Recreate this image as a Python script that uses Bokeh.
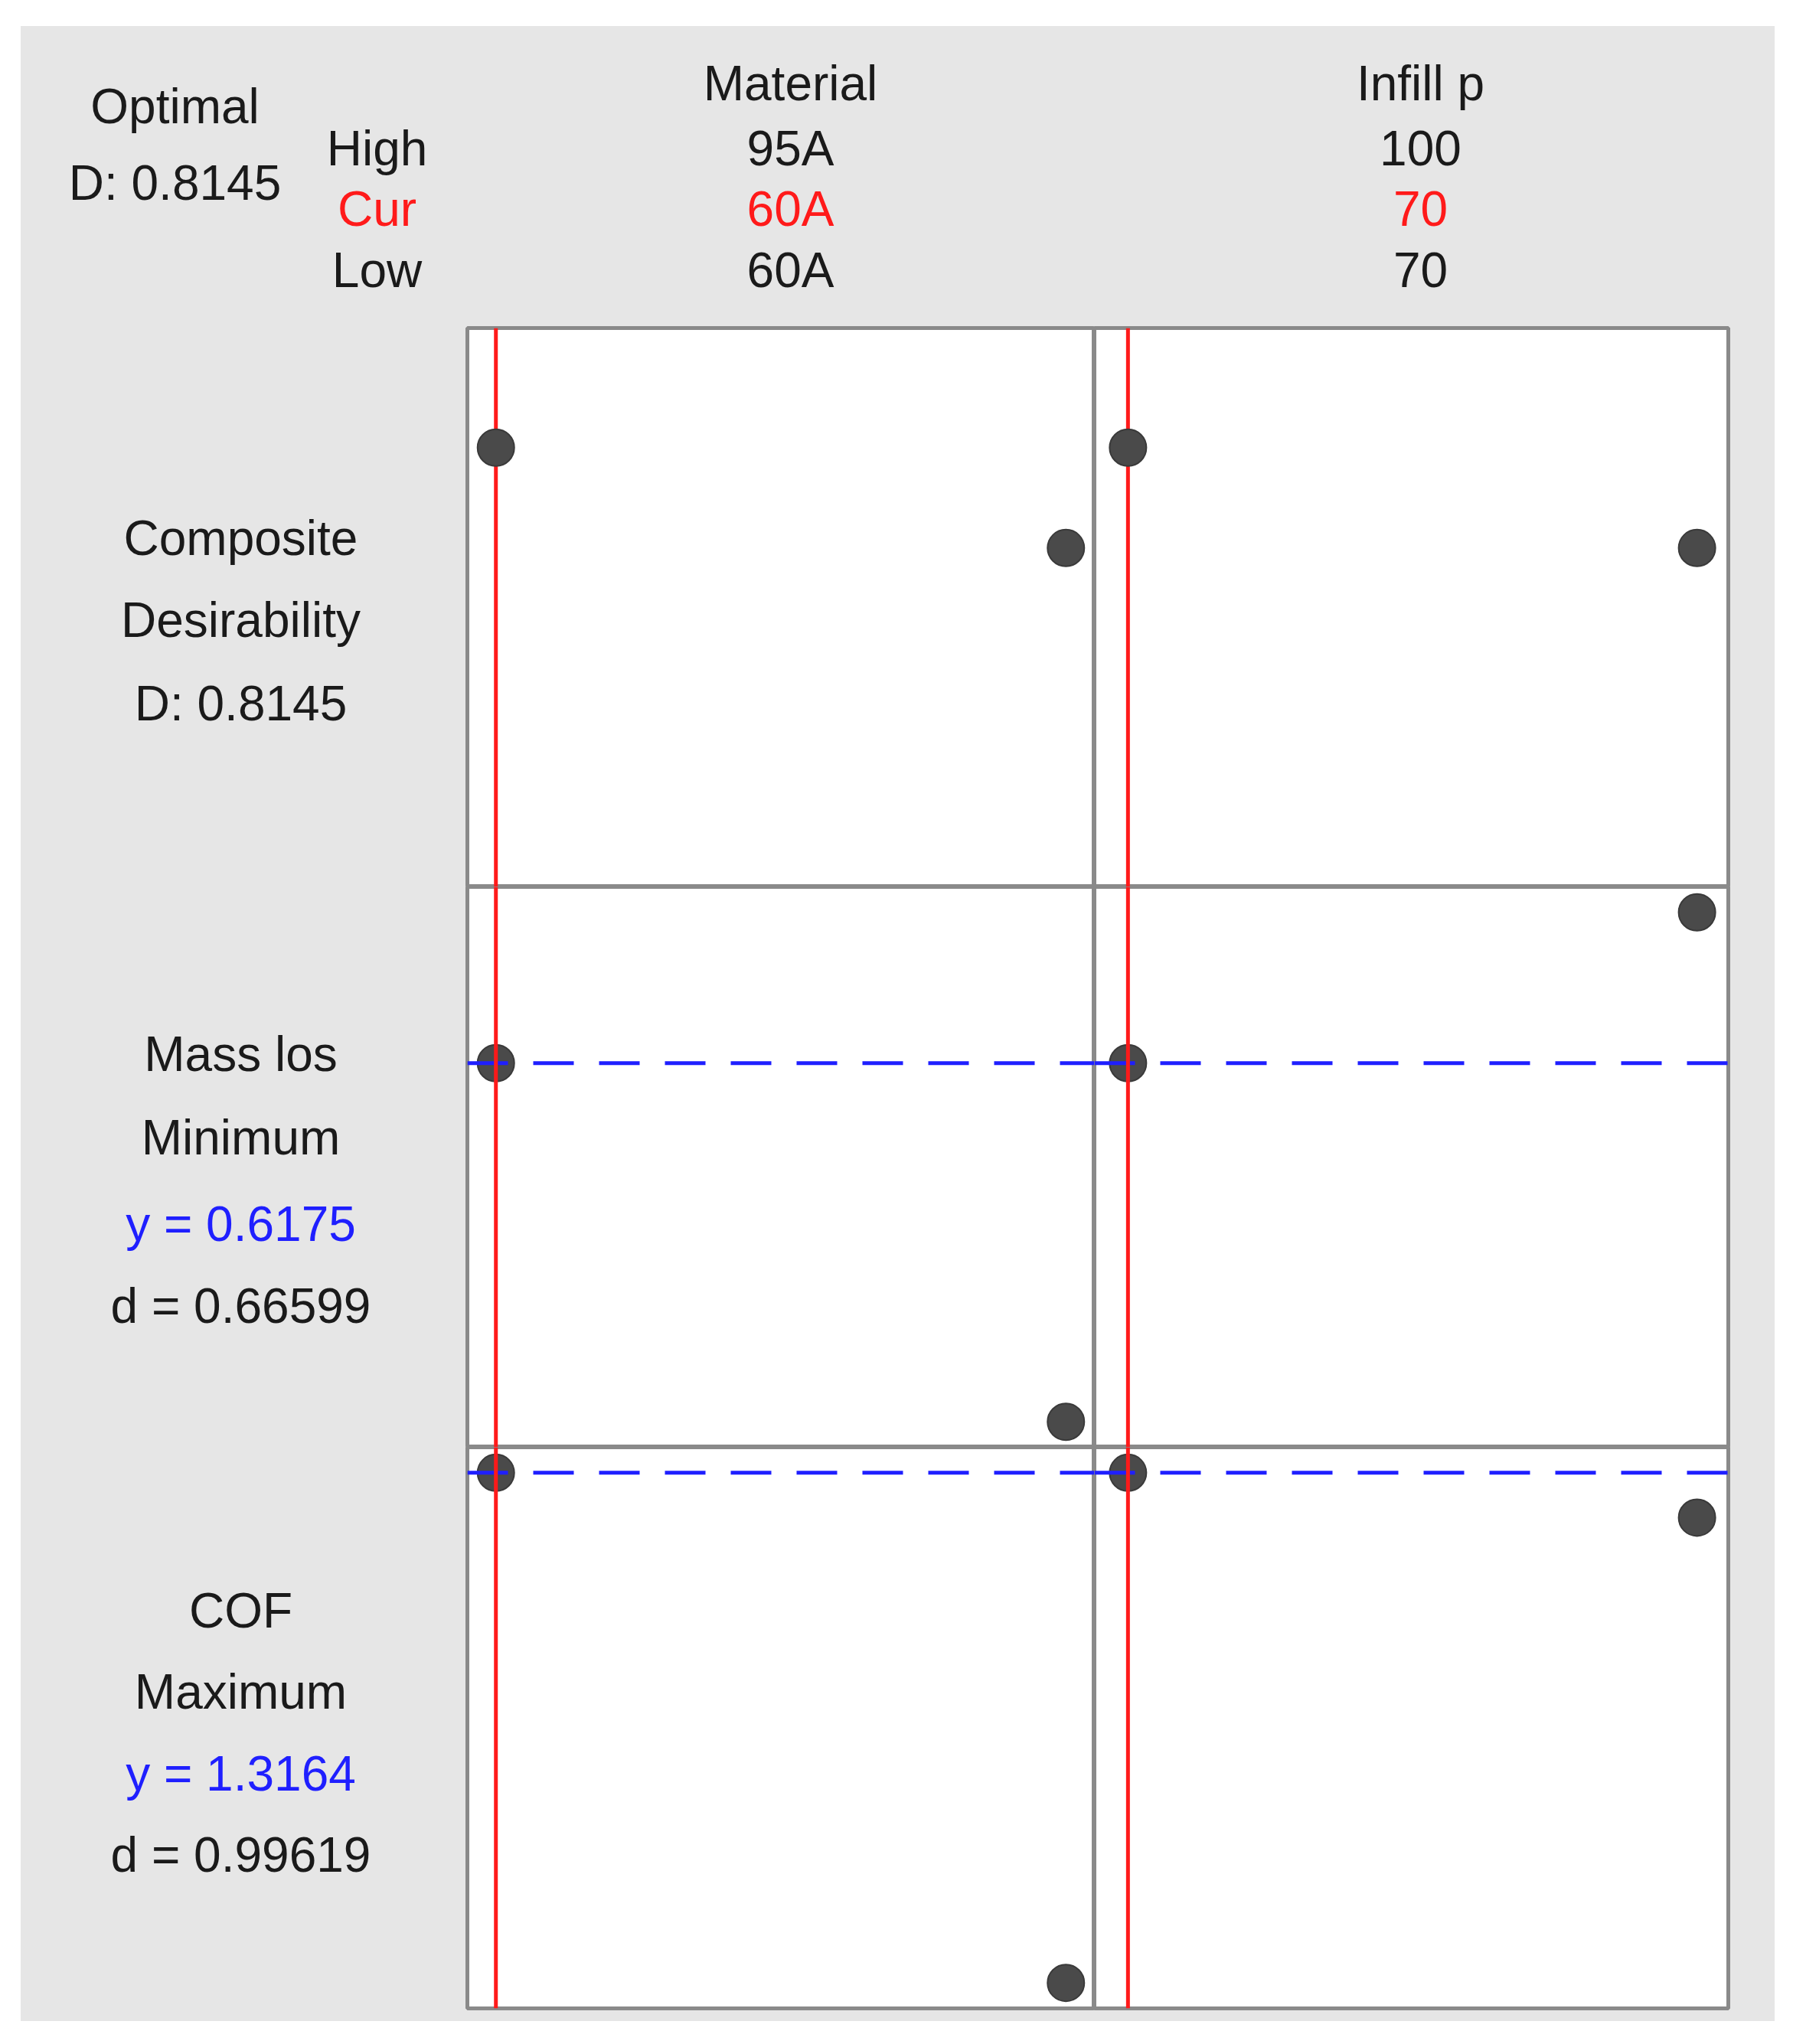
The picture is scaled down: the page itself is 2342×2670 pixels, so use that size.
from bokeh.plotting import figure
from bokeh.models import Range1d, Label, Span, ColumnDataSource
from bokeh.layouts import column, row
from bokeh.embed import file_html
from bokeh.resources import INLINE

# ---------------- data ----------------
factor_names = ["Material", "Infill p"]
factor_high = ["95A", "100"]
factor_cur = ["60A", "70"]
factor_low = ["60A", "70"]
material_levels = ["60A", "95A"]
infill_levels = [70, 100]
infill_cur = 70

optimal_D = 0.8145
response_names = ["Mass los", "COF"]
response_goals = ["Minimum", "Maximum"]
response_y = [0.6175, 1.3164]
response_d = [0.66599, 0.99619]

# predicted values at (low, high) level of each factor, other factor held at current
composite_material = [0.8145, 0.617]
composite_infill = [0.8145, 0.617]
massloss_material = [0.6175, 0.300]
massloss_infill = [0.6175, 0.751]
cof_material = [1.3164, 0.550]
cof_infill = [1.3164, 1.249]

# ---------------- style ----------------
GRAY = "#e6e6e6"
TXT = "#1a1a1a"
RED = "#ff1a1a"
BLUE = "#1f1fff"
PT = "#4a4a4a"
FRAME = "#8a8a8a"
FONT = "Liberation Sans"
FS = "64px"
DY = 24  # text baseline correction


def blank(w, h):
    p = figure(width=w, height=h, x_range=Range1d(0, w), y_range=Range1d(0, h),
               toolbar_location=None, output_backend="svg",
               x_axis_type=None, y_axis_type=None,
               min_border_left=0, min_border_right=0, min_border_top=0, min_border_bottom=0)
    p.outline_line_color = None
    p.background_fill_color = GRAY
    p.border_fill_color = GRAY
    return p


def lab(p, x, y, text, color=TXT):
    p.add_layout(Label(x=x, y=y + DY, text=text, text_font=FONT, text_font_size=FS,
                       text_color=color, text_align="center", text_baseline="alphabetic"))


def padded(vals, pad_lo=0.05, pad_hi=0.05):
    lo, hi = min(vals), max(vals)
    r = hi - lo
    return Range1d(lo - pad_lo * r, hi + pad_hi * r)


# ---------------- header ----------------
header = blank(2291, 392)
lab(header, 201, 264, "Optimal")
lab(header, 201, 164, f"D: {optimal_D:.4f}")
lab(header, 465, 209, "High")
lab(header, 465, 130, "Cur", RED)
lab(header, 465, 50, "Low")
header_x = [1005, 1828]
for i, name in enumerate(factor_names):
    lab(header, header_x[i], 294, name)
    lab(header, header_x[i], 209, factor_high[i])
    lab(header, header_x[i], 130, factor_cur[i], RED)
    lab(header, header_x[i], 50, factor_low[i])

# ---------------- panels ----------------
mat_x = list(range(len(material_levels)))
mat_xr = padded(mat_x)
inf_xr = padded(infill_levels, 0.059, 0.055)
mat_cur = material_levels.index(factor_cur[0])

comp_yr = padded([0.0, 1.0])
mass_yr = padded(massloss_material + massloss_infill)
cof_yr = padded(cof_material + cof_infill)


def panel(xs, ys, xr, yr, cur_x, cur_y, w, h, mb, red_under=False):
    p = figure(width=w, height=h, x_range=xr, y_range=yr,
               toolbar_location=None, output_backend="svg",
               x_axis_type=None, y_axis_type=None,
               min_border_left=mb[0], min_border_right=mb[1],
               min_border_top=mb[2], min_border_bottom=mb[3])
    p.background_fill_color = "white"
    p.border_fill_color = GRAY
    p.outline_line_color = FRAME
    p.outline_line_width = 5
    src = ColumnDataSource(dict(x=xs, y=ys))
    if red_under:
        p.add_layout(Span(location=cur_x, dimension="height", line_color=RED,
                          line_width=5, level="underlay"))
    p.scatter("x", "y", source=src, marker="circle", size=48,
              fill_color=PT, line_color="#3a3a3a", line_width=2)
    if cur_y is not None:
        p.add_layout(Span(location=cur_y, dimension="width", line_color=BLUE,
                          line_width=5, line_dash="53 33"))
    if not red_under:
        p.add_layout(Span(location=cur_x, dimension="height", line_color=RED, line_width=5))
    return p


r1c1 = panel(mat_x, composite_material, mat_xr, comp_yr, mat_cur, None, 821, 732, (2, 0, 2, 0), True)
r1c2 = panel(infill_levels, composite_infill, inf_xr, comp_yr, infill_cur, None, 889, 732, (0, 61, 2, 0), True)
r2c1 = panel(mat_x, massloss_material, mat_xr, mass_yr, mat_cur, response_y[0], 821, 732, (2, 0, 0, 0))
r2c2 = panel(infill_levels, massloss_infill, inf_xr, mass_yr, infill_cur, response_y[0], 889, 732, (0, 61, 0, 0))
r3c1 = panel(mat_x, cof_material, mat_xr, cof_yr, mat_cur, response_y[1], 821, 750, (2, 0, 0, 17))
r3c2 = panel(infill_levels, cof_infill, inf_xr, cof_yr, infill_cur, response_y[1], 889, 750, (0, 61, 0, 17))

# ---------------- row labels ----------------
LX = 287
l1 = blank(581, 732)
lab(l1, LX, 433, "Composite")
lab(l1, LX, 325, "Desirability")
lab(l1, LX, 216, f"D: {optimal_D:.4f}")

l2 = blank(581, 732)
lab(l2, LX, 490, response_names[0])
lab(l2, LX, 381, response_goals[0])
lab(l2, LX, 268, f"y = {response_y[0]:.4f}", BLUE)
lab(l2, LX, 161, f"d = {response_d[0]:.5f}")

l3 = blank(581, 750)
lab(l3, LX, 508, response_names[1])
lab(l3, LX, 399, response_goals[1])
lab(l3, LX, 290, f"y = {response_y[1]:.4f}", BLUE)
lab(l3, LX, 181, f"d = {response_d[1]:.5f}")

bg = {"background-color": GRAY}
root = column(
    header,
    row(l1, r1c1, r1c2, spacing=0, styles=bg),
    row(l2, r2c1, r2c2, spacing=0, styles=bg),
    row(l3, r3c1, r3c2, spacing=0, styles=bg),
    spacing=0,
    margin=(34, 0, 0, 27),
    styles=bg,
)

open("out.html", "w").write(file_html(root, INLINE, title="Optimization Plot"))
